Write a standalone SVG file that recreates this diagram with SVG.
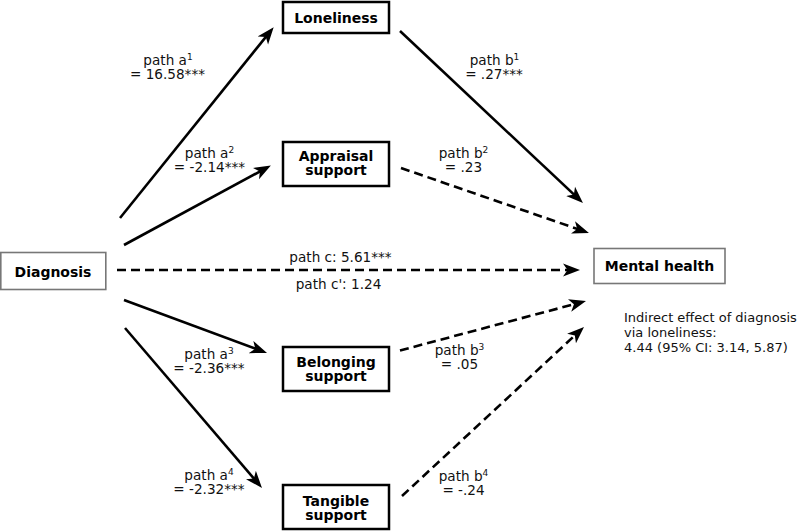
<svg xmlns="http://www.w3.org/2000/svg" width="800" height="531" viewBox="0 0 800 531">
<style>
.node{fill:#fff;stroke:#000;stroke-width:2.5}
.gnode{fill:#fff;stroke:#777;stroke-width:1.6}
.nl{font-family:"DejaVu Sans",Verdana,sans-serif;font-weight:bold;font-size:14px;text-anchor:middle;fill:#000}
.lb{font-family:"DejaVu Sans",Verdana,sans-serif;font-size:13.6px;text-anchor:middle;fill:#111}
.note{font-family:"DejaVu Sans",Verdana,sans-serif;font-size:13px;fill:#111}
.sup{font-size:9px}
.e{fill:none;stroke:#000;stroke-width:2.6;marker-end:url(#ah)}
.d{stroke-dasharray:9 5}
</style>
<defs>
<marker id="ah" markerUnits="userSpaceOnUse" markerWidth="18" markerHeight="14" refX="11" refY="6.5" orient="auto" viewBox="0 0 18 13">
<path d="M0,0 L17,6.5 L0,13 L4.5,6.5 Z" fill="#000"/>
</marker>
</defs>
<rect width="800" height="531" fill="#fff"/>
<g id="connectors">
<line class="e" x1="120" y1="218" x2="269.9" y2="31.9"/>
<line class="e" x1="124" y1="245" x2="265.6" y2="168.4"/>
<line class="e d" x1="117" y1="270" x2="574" y2="270"/>
<line class="e" x1="124" y1="300" x2="261.4" y2="350.9"/>
<line class="e" x1="125" y1="328" x2="258.1" y2="483.4"/>
<line class="e" x1="400" y1="31" x2="578.6" y2="198.9"/>
<line class="e d" x1="401" y1="168" x2="583.3" y2="231"/>
<line class="e d" x1="400" y1="350.5" x2="580.2" y2="302.6"/>
<line class="e d" x1="402" y1="496" x2="579.6" y2="331"/>
</g>
<g id="loneliness">
<rect class="node" x="283" y="2" width="106" height="31"/>
<text class="nl" x="336" y="23">Loneliness</text>
</g>
<g id="appraisal">
<rect class="node" x="283" y="142" width="106" height="44"/>
<text class="nl" x="336" y="161">Appraisal</text>
<text class="nl" x="336" y="175">support</text>
</g>
<g id="diagnosis">
<rect class="gnode" x="0.8" y="252.5" width="105" height="37"/>
<text class="nl" x="53" y="277">Diagnosis</text>
</g>
<g id="mental-health">
<rect class="gnode" x="594" y="248.5" width="131" height="35"/>
<text class="nl" x="659.5" y="271" font-size="13">Mental health</text>
</g>
<g id="belonging">
<rect class="node" x="283" y="347" width="106" height="44"/>
<text class="nl" x="336" y="366.5">Belonging</text>
<text class="nl" x="336" y="380.5">support</text>
</g>
<g id="tangible">
<rect class="node" x="283" y="485" width="106" height="44"/>
<text class="nl" x="336" y="505.5">Tangible</text>
<text class="nl" x="336" y="519.5">support</text>
</g>
<g id="labels">
<text class="lb" x="168" y="65">path a<tspan class="sup" dy="-5">1</tspan></text>
<text class="lb" x="167.5" y="79">= 16.58***</text>
<text class="lb" x="209.5" y="158">path a<tspan class="sup" dy="-5">2</tspan></text>
<text class="lb" x="209.5" y="172">= -2.14***</text>
<text class="lb" x="494.5" y="65">path b<tspan class="sup" dy="-5">1</tspan></text>
<text class="lb" x="494" y="79">= .27***</text>
<text class="lb" x="463.5" y="158">path b<tspan class="sup" dy="-5">2</tspan></text>
<text class="lb" x="463.5" y="172">= .23</text>
<text class="lb" x="340.5" y="262">path c: 5.61***</text>
<text class="lb" x="338.5" y="289">path c': 1.24</text>
<text class="lb" x="209" y="358.5">path a<tspan class="sup" dy="-5">3</tspan></text>
<text class="lb" x="209" y="373">= -2.36***</text>
<text class="lb" x="209" y="480">path a<tspan class="sup" dy="-5">4</tspan></text>
<text class="lb" x="209" y="494">= -2.32***</text>
<text class="lb" x="459.5" y="355">path b<tspan class="sup" dy="-5">3</tspan></text>
<text class="lb" x="459.5" y="369">= .05</text>
<text class="lb" x="463.5" y="481">path b<tspan class="sup" dy="-5">4</tspan></text>
<text class="lb" x="463.5" y="495">= -.24</text>
<text class="note" x="624" y="322">Indirect effect of diagnosis</text>
<text class="note" x="624" y="337">via loneliness:</text>
<text class="note" x="624" y="352">4.44 (95% CI: 3.14, 5.87)</text>
</g>
</svg>
